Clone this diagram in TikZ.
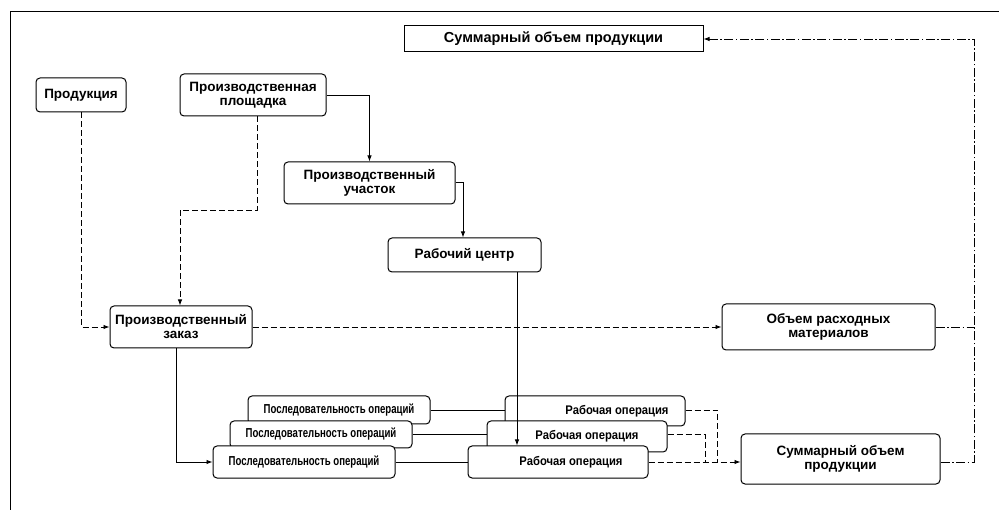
\documentclass[tikz,border=0pt]{standalone}
\usepackage{fontspec}
\newfontfamily\boxfont{Liberation Sans}
\newfontfamily\narrowfont{Liberation Sans}[FakeStretch=0.74]
\newfontfamily\midfont{Liberation Sans}[FakeStretch=0.9]
\usetikzlibrary{arrows.meta,calc}
\begin{document}
\begin{tikzpicture}[x=1pt,y=-1pt,
  box/.style={draw, rounded corners=4pt, fill=white, line width=1pt, align=center,
    inner sep=1pt, font=\boxfont\bfseries\fontsize{13.5}{14}\selectfont},
  sqbox/.style={box, rounded corners=0pt, font=\boxfont\bfseries\fontsize{14.5}{15}\selectfont},
  seqbox/.style={box, font=\narrowfont\bfseries\fontsize{13}{14}\selectfont},
  opbox/.style={box, font=\midfont\bfseries\fontsize{12.5}{14}\selectfont},
  conn/.style={line width=0.9pt},
  dconn/.style={conn, dash pattern=on 6pt off 3pt},
  ddconn/.style={conn, dash pattern=on 9pt off 2.5pt on 1.5pt off 2.5pt},
  tip/.style={-{Latex[length=6pt,width=4.5pt]}}]
\useasboundingbox (0,0) rectangle (999,510);
\draw[line width=1pt] (10,510) -- (10,12) -- (999,12);
% boxes
\node[sqbox, minimum width=299pt, minimum height=26pt] (sumtop) at (553.5,39) {Суммарный объем продукции};
\node[box, minimum width=90pt, minimum height=34pt] (prod) at (81,95) {Продукция};
\node[box, minimum width=146pt, minimum height=42pt] (plosh) at (253,95) {Производственная\\площадка};
\node[box, minimum width=171pt, minimum height=42pt] (uch) at (369.5,183) {Производственный\\участок};
\node[box, minimum width=153pt, minimum height=34pt] (rc) at (464.5,255) {Рабочий центр};
\node[box, minimum width=142pt, minimum height=42pt] (zak) at (181,327) {Производственный\\заказ};
\node[box, minimum width=213pt, minimum height=46pt] (ras) at (828.5,327) {Объем расходных\\материалов};
\node[seqbox, minimum width=182pt, minimum height=28pt] (ps3) at (339,410) {Последовательность операций};
\node[opbox, minimum width=180pt, minimum height=30pt] (ro3) at (595,411) {\hspace*{44pt}Рабочая операция};
\node[seqbox, minimum width=182pt, minimum height=27pt] (ps2) at (321,434.5) {Последовательность операций};
\node[opbox, minimum width=180pt, minimum height=31pt] (ro2) at (577,436.5) {\hspace*{20pt}Рабочая операция};
\node[seqbox, minimum width=182pt, minimum height=32pt] (ps1) at (304,462) {Последовательность операций};
\node[opbox, minimum width=180pt, minimum height=32pt] (ro1) at (558,462) {\hspace*{26pt}Рабочая операция};
\node[box, minimum width=199pt, minimum height=50pt] (sumb) at (840.5,459) {Суммарный объем\\продукции};
% solid connectors
\draw[conn, tip] (plosh.east) -| (uch.north);
\draw[conn, tip] ($(uch.east)+(0,-1)$) -| (rc.north -| 463,0);
\draw[conn, tip] (zak.south -| 176,0) |- (ps1.west);
\draw[conn, tip] (rc.south -| 517,0) -- (ro1.north -| 517,0);
\draw[conn] (ps3.east) -- (ro3.west |- ps3.east);
\draw[conn] (ps2.east) -- (ro2.west |- ps2.east);
\draw[conn] (ps1.east) -- (ro1.west);
% dashed connectors
\draw[dconn, tip] (prod.south) |- (zak.west);
\draw[dconn, tip] (plosh.south -| 257,0) |- (180,210) -- (zak.north -| 180,0);
\draw[dconn, tip] (zak.east) -- (ras.west);
\draw[dconn] (ro3.east |- ps3.east) -| (717,462);
\draw[dconn] (ro2.east |- ps2.east) -| (705,462);
\draw[dconn, tip] (ro1.east) -- (sumb.west |- ro1.east);
% dash-dot connectors
\draw[ddconn] (ras.east) -- (974,327);
\draw[ddconn, tip] (sumb.east |- ro1.east) -| (974,39) -- (sumtop.east);
\end{tikzpicture}
\end{document}
